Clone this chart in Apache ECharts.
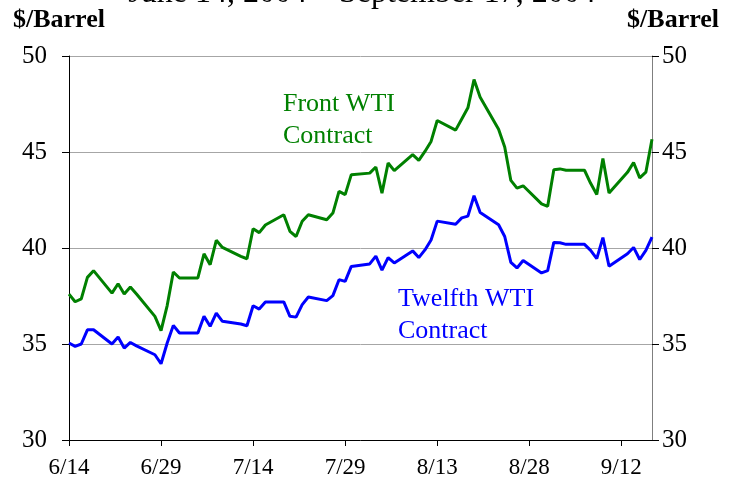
<!DOCTYPE html>
<html><head><meta charset="utf-8">
<script src="https://cdn.jsdelivr.net/npm/echarts@6/dist/echarts.min.js"></script>
<style>html,body{margin:0;padding:0;background:#fff}#c{width:739px;height:489px}</style>
</head><body><div id="c"></div>
<script>
const dates = ['6/14','6/15','6/16','6/17','6/18','6/21','6/22','6/23','6/24','6/25','6/28','6/29','6/30',
  '7/1','7/2','7/5','7/6','7/7','7/8','7/9','7/12','7/13','7/14','7/15','7/16','7/19','7/20','7/21','7/22','7/23',
  '7/26','7/27','7/28','7/29','7/30','8/2','8/3','8/4','8/5','8/6','8/9','8/10','8/11','8/12','8/13',
  '8/16','8/17','8/18','8/19','8/20','8/23','8/24','8/25','8/26','8/27','8/30','8/31',
  '9/1','9/2','9/3','9/6','9/7','9/8','9/9','9/10','9/13','9/14','9/15','9/16','9/17'];
const frontWTI = [37.6,37.2,37.35,38.47,38.82,37.65,38.14,37.6,37.97,37.6,36.44,35.7,37.0,
  38.75,38.44,38.44,39.7,39.13,40.4,40.03,39.56,39.44,41.0,40.8,41.2,41.73,40.87,40.6,41.39,41.73,
  41.47,41.82,42.95,42.78,43.82,43.9,44.22,42.86,44.43,44.03,44.86,44.56,45.03,45.55,46.64,
  46.14,46.72,47.3,48.77,47.85,46.18,45.26,43.52,43.12,43.24,42.3,42.17,
  44.08,44.12,44.05,44.05,43.37,42.79,44.66,42.86,43.94,44.45,43.65,43.95,45.66];
const twelfthWTI = [35.05,34.88,35.0,35.74,35.74,35.0,35.36,34.79,35.08,34.9,34.44,33.97,35.05,
  35.97,35.57,35.57,36.44,35.92,36.61,36.18,36.04,35.95,36.99,36.82,37.19,37.19,36.44,36.4,37.05,37.45,
  37.26,37.52,38.35,38.26,39.04,39.17,39.58,38.85,39.5,39.22,39.85,39.5,39.9,40.42,41.4,
  41.24,41.57,41.66,42.72,41.85,41.21,40.6,39.25,38.96,39.35,38.7,38.82,
  40.29,40.27,40.19,40.19,39.88,39.45,40.54,39.05,39.7,40.03,39.4,39.88,40.57];
const xTickLabels = ['6/14','6/29','7/14','7/29','8/13','8/28','9/12'];
const yTicks = [30,35,40,45,50];

const startUTC = Date.UTC(2004,5,14);
function dayOf(s){const p=s.split('/');return Math.round((Date.UTC(2004,+p[0]-1,+p[1])-startUTC)/86400000);}
const lastDay = dayOf(dates[dates.length-1]);
const xTickVals = xTickLabels.map(dayOf);

const serif = "'Liberation Serif','Times New Roman',serif";
const chart = echarts.init(document.getElementById('c'), null, {renderer:'canvas'});
chart.setOption({
  animation:false,
  backgroundColor:'#fff',
  grid:{left:69,right:87,top:56,bottom:49,containLabel:false},
  xAxis:{type:'value',min:0,max:lastDay,interval:15,
    axisLine:{show:true,onZero:false,lineStyle:{color:'#000',width:1}},
    axisTick:{show:true,inside:false,length:6,lineStyle:{color:'#000'},customValues:xTickVals},
    axisLabel:{customValues:xTickVals,margin:16,color:'#000',fontFamily:serif,fontSize:23,
      formatter:v=>{const i=xTickVals.indexOf(v);return i>=0?xTickLabels[i]:'';}},
    splitLine:{show:false}},
  yAxis:[
    {type:'value',min:yTicks[0],max:yTicks[yTicks.length-1],interval:5,position:'left',
      axisLine:{show:true,lineStyle:{color:'#000',width:1}},
      axisTick:{show:true,inside:false,length:7,lineStyle:{color:'#000'}},
      axisLabel:{margin:22,color:'#000',fontFamily:serif,fontSize:25},
      splitLine:{show:true,lineStyle:{color:'#a6a6a6',width:1}}},
    {type:'value',min:yTicks[0],max:yTicks[yTicks.length-1],interval:5,position:'right',
      axisLine:{show:true,lineStyle:{color:'#7f7f7f',width:1}},
      axisTick:{show:true,inside:false,length:7,lineStyle:{color:'#000'}},
      axisLabel:{margin:10,color:'#000',fontFamily:serif,fontSize:25},
      splitLine:{show:false}}
  ],
  series:[
    {name:'Front WTI Contract',type:'line',showSymbol:false,symbol:'none',
      lineStyle:{color:'#008000',width:3},itemStyle:{color:'#008000'},
      data:dates.map((d,i)=>[dayOf(d),frontWTI[i]])},
    {name:'Twelfth WTI Contract',type:'line',showSymbol:false,symbol:'none',
      lineStyle:{color:'#0000ff',width:3},itemStyle:{color:'#0000ff'},
      data:dates.map((d,i)=>[dayOf(d),twelfthWTI[i]])}
  ],
  graphic:[
    {type:'text',x:362,y:10,style:{text:'June 14, 2004 – September 17, 2004',fill:'#000',font:'32px '+serif,textAlign:'center',textVerticalAlign:'bottom'}},
    {type:'text',x:13,y:7,style:{text:'$/Barrel',fill:'#000',font:'bold 26px '+serif}},
    {type:'text',x:719,y:7,style:{text:'$/Barrel',fill:'#000',font:'bold 26px '+serif,textAlign:'right'}},
    {type:'text',x:283,y:88,style:{text:'Front WTI\nContract',fill:'#008000',font:'26px '+serif,lineHeight:32}},
    {type:'text',x:398,y:283,style:{text:'Twelfth WTI\nContract',fill:'#0000ff',font:'26px '+serif,lineHeight:32}}
  ]
});
</script>
</body></html>
